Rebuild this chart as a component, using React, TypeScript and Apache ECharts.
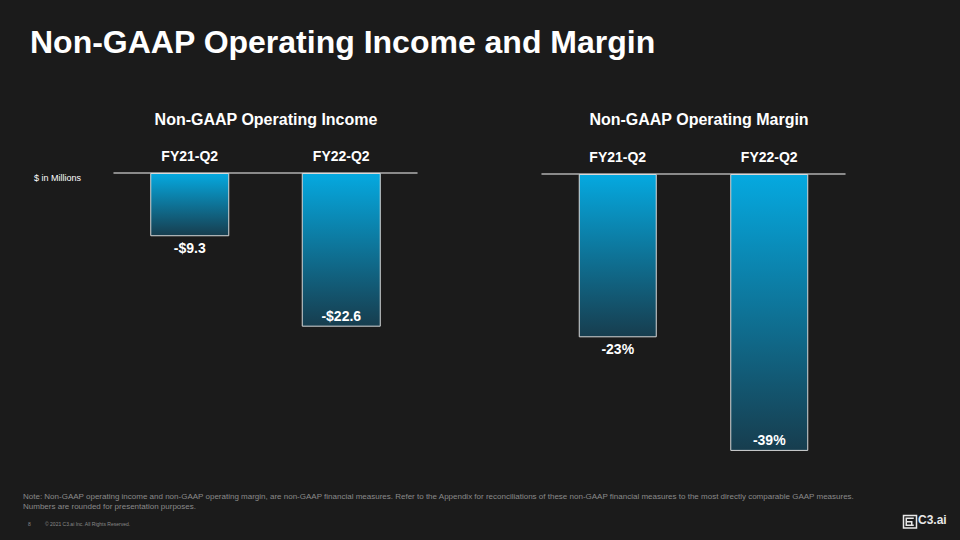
import React, { useEffect, useRef } from "react";
import * as echarts from "echarts";

const categories = ["FY21-Q2", "FY22-Q2"];
const incomeValues = [-9.3, -22.6];
const incomeLabels = ["-$9.3", "-$22.6"];
const marginValues = [-23, -39];
const marginLabels = ["-23%", "-39%"];
const incomeLabelInside = [false, true];
const marginLabelInside = [false, true];

const FONT = "Liberation Sans, Arial, Helvetica, sans-serif";

function barData(values: number[], labels: string[], inside: boolean[]) {
  return values.map((v, i) => ({
    value: v,
    label: {
      show: true,
      position: inside[i] ? "insideBottom" : "bottom",
      distance: inside[i] ? 4 : 5,
      formatter: labels[i],
      color: "#ffffff",
      fontFamily: FONT,
      fontWeight: "bold",
      fontSize: 14,
    },
  }));
}

const barGradient = new echarts.graphic.LinearGradient(0, 0, 0, 1, [
  { offset: 0, color: "#05a9e0" },
  { offset: 1, color: "#173d4e" },
]);

export default function App() {
  const ref = useRef<HTMLDivElement>(null);
  useEffect(() => {
    if (!ref.current) return;
    const chart = echarts.init(ref.current, null, { renderer: "svg" });
    const catAxis = (gridIndex: number) => ({
      type: "category",
      gridIndex,
      data: categories,
      position: "top",
      axisLine: { show: true, lineStyle: { color: "#b0b0b0", width: 1.5 } },
      axisTick: { show: false },
      axisLabel: {
        color: "#ffffff",
        fontFamily: FONT,
        fontWeight: "bold",
        fontSize: 14,
        margin: 10,
      },
    });
    const valAxis = (gridIndex: number, min: number) => ({
      type: "value",
      gridIndex,
      min,
      max: 0,
      show: false,
      splitLine: { show: false },
    });
    chart.setOption({
      animation: false,
      backgroundColor: "#1b1b1b",
      title: [
        {
          text: "Non-GAAP Operating Income and Margin",
          left: 25,
          top: 21,
          textStyle: { color: "#ffffff", fontFamily: FONT, fontWeight: "bold", fontSize: 32 },
        },
        {
          text: "Non-GAAP Operating Income",
          left: 261,
          textAlign: "center",
          top: 106,
          textStyle: { color: "#ffffff", fontFamily: FONT, fontWeight: "bold", fontSize: 16 },
        },
        {
          text: "Non-GAAP Operating Margin",
          left: 694,
          textAlign: "center",
          top: 106,
          textStyle: { color: "#ffffff", fontFamily: FONT, fontWeight: "bold", fontSize: 16 },
        },
      ],
      grid: [
        { left: 114, width: 303, top: 173, height: 204 },
        { left: 542, width: 303, top: 174, height: 284 },
      ],
      xAxis: [catAxis(0), catAxis(1)],
      yAxis: [valAxis(0, -30), valAxis(1, -40)],
      series: [
        {
          type: "bar",
          xAxisIndex: 0,
          yAxisIndex: 0,
          barWidth: 79,
          data: barData(incomeValues, incomeLabels, incomeLabelInside),
          itemStyle: { color: barGradient, borderColor: "#d8d8d8", borderWidth: 1 },
        },
        {
          type: "bar",
          xAxisIndex: 1,
          yAxisIndex: 1,
          barWidth: 78,
          data: barData(marginValues, marginLabels, marginLabelInside),
          itemStyle: { color: barGradient, borderColor: "#d8d8d8", borderWidth: 1 },
        },
      ],
      graphic: [
        {
          type: "text",
          left: 34,
          top: 173,
          style: { text: "$ in Millions", fill: "#ffffff", font: `9px ${FONT}` },
        },
        {
          type: "text",
          left: 23,
          top: 491,
          style: {
            text:
              "Note: Non-GAAP operating income and non-GAAP operating margin, are non-GAAP financial measures. Refer to the Appendix for reconciliations of these non-GAAP financial measures to the most directly comparable GAAP measures.\nNumbers are rounded for presentation purposes.",
            fill: "#8a8a8a",
            font: `8px ${FONT}`,
            lineHeight: 10,
          },
        },
        {
          type: "text",
          left: 28,
          top: 521,
          style: { text: "8", fill: "#8a8a8a", font: `5px ${FONT}` },
        },
        {
          type: "text",
          left: 45,
          top: 521,
          style: { text: "© 2021 C3.ai Inc. All Rights Reserved.", fill: "#8a8a8a", font: `5px ${FONT}` },
        },
        {
          type: "group",
          left: 901,
          top: 513,
          children: [
            { type: "rect", shape: { x: 0.75, y: 0.75, width: 13, height: 12.5 }, style: { fill: "none", stroke: "#e8e8e8", lineWidth: 1.5 } },
            { type: "polyline", shape: { points: [[11, 3.5], [3.5, 3.5], [3.5, 10.5], [11, 10.5]] }, style: { fill: "none", stroke: "#e8e8e8", lineWidth: 1.5 } },
            { type: "polyline", shape: { points: [[3.5, 7], [9, 7], [9, 10.5]] }, style: { fill: "none", stroke: "#e8e8e8", lineWidth: 1.5 } },
          ],
        },
        {
          type: "text",
          left: 918,
          top: 514,
          style: { text: "C3.ai", fill: "#e8e8e8", font: `bold 12px ${FONT}` },
        },
      ],
    });
    return () => chart.dispose();
  }, []);
  return (
    <div
      ref={ref}
      style={{ position: "fixed", left: 0, top: 0, width: 960, height: 540 }}
    />
  );
}
